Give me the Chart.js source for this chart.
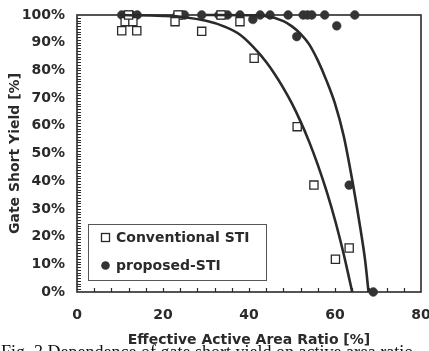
<!DOCTYPE html>
<html>
<head>
<meta charset="utf-8">
<script src="https://cdn.jsdelivr.net/npm/chart.js@4.4.1/dist/chart.umd.min.js"></script>
<style>
  html, body { margin: 0; padding: 0; background: #fff; overflow: hidden; }
  #wrap { position: relative; width: 429px; height: 351px; }
</style>
</head>
<body>
<div id="wrap"><canvas id="c" width="429" height="351"></canvas></div>
<script>
// ---- data ----
const xTicks = [0, 20, 40, 60, 80];
const yTicks = [0, 10, 20, 30, 40, 50, 60, 70, 80, 90, 100];

const convX = [10.4, 11.2, 13.0, 13.9, 12.0, 23.5, 22.8, 29.0, 33.5, 37.9, 41.2, 51.2, 55.1, 60.1, 63.3];
const convY = [94.3, 97.6, 97.6, 94.3, 100, 100, 97.6, 94.1, 100, 97.6, 84.4, 59.7, 38.6, 11.8, 15.9];

const propX = [10.4, 11.5, 12.7, 14.0, 23.3, 24.3, 25.0, 29.0, 33.0, 34.0, 35.0, 37.9, 40.9, 42.6, 44.9, 49.1, 51.1, 52.6, 53.6, 54.6, 57.6, 60.4, 63.3, 64.6, 68.9];
const propY = [100, 100, 100, 100, 100, 100, 100, 100, 100, 100, 100, 100, 98.4, 100, 100, 100, 92.2, 100, 100, 100, 100, 96.1, 38.6, 100, 0];

const convFitX = [10, 20, 25, 30, 34, 38, 42, 44, 46, 48, 50, 52, 54, 56, 58, 60, 62, 63, 64];
const convFitY = [100, 99.7, 99.2, 97.9, 96.0, 92.8, 86.8, 83.0, 78.6, 73.6, 68.0, 61.5, 54.2, 45.9, 36.6, 26.0, 13.8, 7.0, 0];

const propFitX = [30, 40, 44, 48, 50, 52, 54, 56, 58, 60, 62, 64, 65, 66, 67, 67.8];
const propFitY = [100, 99.9, 99.6, 97.8, 95.9, 93.2, 89.4, 83.6, 76.4, 68.0, 56.5, 40.5, 31.5, 22.0, 11.5, 0];

const seriesLabels = ['Conventional STI', 'proposed-STI'];
const xTitle = 'Effective Active Area Ratio [%]';
const yTitle = 'Gate Short Yield [%]';
const caption = 'Fig. 3 Dependence of gate short yield on active area ratio';

const toPts = (xs, ys) => xs.map((x, i) => ({ x: x, y: ys[i] }));

const INK = '#2a2a2a';
const FONT = '"DejaVu Sans", sans-serif';

const decor = {
  id: 'decor',
  beforeDatasetsDraw(chart) {
    const { ctx, chartArea: a, scales } = chart;
    ctx.save();
    ctx.strokeStyle = INK;
    ctx.lineWidth = 1.6;
    ctx.strokeRect(a.left, a.top, a.right - a.left, a.bottom - a.top);
    ctx.lineWidth = 1.2;
    ctx.beginPath();
    for (let v = 1; v < 100; v++) {
      const y = Math.round(scales.y.getPixelForValue(v)) + 0.5;
      ctx.moveTo(a.left, y); ctx.lineTo(a.left + 4, y);
    }
    for (let v = 4; v < 80; v += 4) {
      const x = Math.round(scales.x.getPixelForValue(v)) + 0.5;
      ctx.moveTo(x, a.bottom); ctx.lineTo(x, a.bottom - 4);
    }
    ctx.stroke();
    ctx.restore();
  },
  afterDraw(chart) {
    const { ctx } = chart;
    ctx.save();
    // legend box
    ctx.fillStyle = '#fff';
    ctx.fillRect(88, 224, 178, 56);
    ctx.strokeStyle = '#555';
    ctx.lineWidth = 1;
    ctx.strokeRect(88.5, 224.5, 178, 56);
    ctx.strokeStyle = INK;
    ctx.lineWidth = 1.3;
    ctx.strokeRect(101.5, 233.5, 8, 8);
    ctx.fillStyle = '#333';
    ctx.beginPath();
    ctx.arc(105.5, 265.5, 4.3, 0, Math.PI * 2);
    ctx.fill();
    ctx.fillStyle = INK;
    ctx.font = 'bold 14px ' + FONT;
    ctx.textBaseline = 'middle';
    ctx.textAlign = 'left';
    ctx.fillText(seriesLabels[0], 116, 238.5);
    ctx.fillText(seriesLabels[1], 116, 266);
    // caption (cut by the bottom edge, as in the reference)
    ctx.font = '18px "Liberation Serif", serif';
    ctx.textBaseline = 'alphabetic';
    ctx.fillStyle = '#111';
    ctx.fillText(caption, 1, 358);
    ctx.restore();
  }
};

new Chart(document.getElementById('c'), {
  type: 'scatter',
  data: {
    datasets: [
      {
        label: 'conv fit', data: toPts(convFitX, convFitY), showLine: true,
        borderColor: INK, borderWidth: 2.6, pointRadius: 0, cubicInterpolationMode: 'monotone', fill: false
      },
      {
        label: 'prop fit', data: toPts(propFitX, propFitY), showLine: true,
        borderColor: INK, borderWidth: 2.6, pointRadius: 0, cubicInterpolationMode: 'monotone', fill: false
      },
      {
        label: seriesLabels[0], data: toPts(convX, convY), pointStyle: 'rect',
        pointRadius: 5.8, pointBackgroundColor: '#fff', pointBorderColor: INK, pointBorderWidth: 1.3
      },
      {
        label: seriesLabels[1], data: toPts(propX, propY), pointStyle: 'circle',
        pointRadius: 4.4, pointBackgroundColor: '#333', pointBorderColor: '#333', pointBorderWidth: 0.5
      }
    ]
  },
  options: {
    responsive: false,
    animation: false,
    events: [],
    clip: false,
    layout: { padding: { top: 15, right: 8, left: 0, bottom: 0 } },
    plugins: { legend: { display: false }, tooltip: { enabled: false } },
    scales: {
      x: {
        type: 'linear', min: 0, max: 80,
        afterBuildTicks: s => { s.ticks = xTicks.map(v => ({ value: v })); },
        afterFit: s => { s.height = 59; s.paddingLeft = 0; s.paddingRight = 0; },
        grid: { display: false, drawTicks: false },
        border: { display: false },
        ticks: { color: INK, font: { family: FONT, size: 14, weight: 'bold' }, padding: 15, maxRotation: 0 },
        title: { display: true, text: xTitle, color: INK, font: { family: FONT, size: 14, weight: 'bold' }, padding: { top: 0, bottom: 2 } }
      },
      y: {
        type: 'linear', min: 0, max: 100,
        afterBuildTicks: s => { s.ticks = yTicks.map(v => ({ value: v })); },
        afterFit: s => { s.width = 77; s.paddingTop = 0; s.paddingBottom = 0; },
        grid: { display: false, drawTicks: false },
        border: { display: false },
        ticks: { color: INK, font: { family: FONT, size: 14, weight: 'bold' }, padding: 12, callback: v => v + '%' },
        title: { display: true, text: yTitle, color: INK, font: { family: FONT, size: 14, weight: 'bold' }, padding: { top: 7, bottom: 0 } }
      }
    }
  },
  plugins: [decor]
});
</script>
</body>
</html>
